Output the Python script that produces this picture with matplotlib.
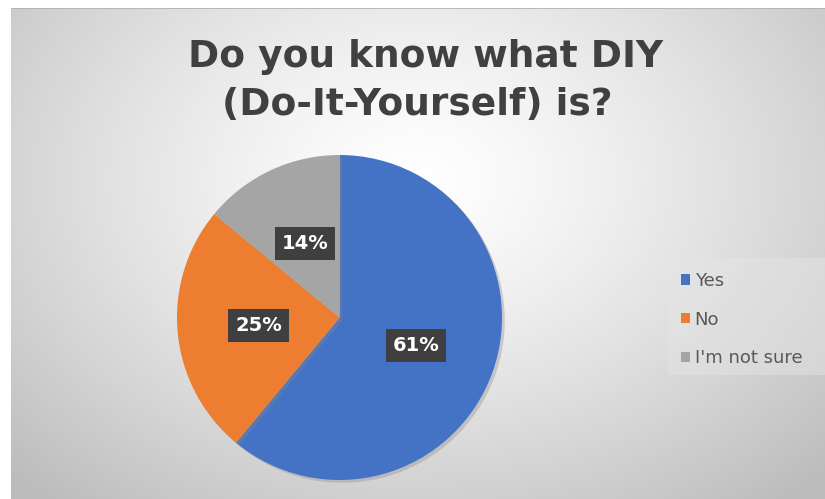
import numpy as np
import matplotlib
matplotlib.use("Agg")
import matplotlib.pyplot as plt
import matplotlib.patheffects as pe

title_lines = ["Do you know what DIY", "(Do-It-Yourself) is?"]
categories = ["Yes", "No", "I'm not sure"]
values = [61, 25, 14]
colors = ["#4472C4", "#ED7D31", "#A5A5A5"]

W, H = 825, 499
fig = plt.figure(figsize=(W / 100, H / 100), dpi=100)
fig.patch.set_facecolor("white")

# background panel with radial gradient
bg = fig.add_axes([11 / W, 0, 1 - 11 / W, (H - 8) / H])
bg.set_axis_off()
yy, xx = np.mgrid[0:491, 0:814]
cx, cy = 405, 170
r = np.sqrt(((xx - cx) / 520) ** 2 + ((yy - cy) / 380) ** 2)
g = np.clip(1.0 - 0.23 * np.clip(r, 0, 1.3) ** 1.3, 0.74, 1.0)
img = np.dstack([g, g, g])
bg.imshow(img, aspect="auto", extent=[0, 1, 0, 1], interpolation="bilinear")
bg.set_xlim(0, 1)
bg.set_ylim(0, 1)
bg.plot([0, 1], [0.999, 0.999], color="#b0b0b0", lw=1.2, transform=bg.transAxes)

# legend background
fig.patches.append(plt.Rectangle((668 / W, 1 - 375 / H), 157 / W, 117 / H,
                                 transform=fig.transFigure, facecolor="#e6e6e6",
                                 edgecolor="none", alpha=0.45, zorder=1))

# pie
cxp, cyp, rad = 339.5, 317.5, 162.5
ax = fig.add_axes([(cxp - rad) / W, 1 - (cyp + rad) / H, 2 * rad / W, 2 * rad / H])
ax.set_axis_off()
wedges, texts, autotexts = ax.pie(
    values, colors=colors, startangle=90, counterclock=False,
    autopct="%1.0f%%", pctdistance=0.5, radius=1.0,
    wedgeprops=dict(linewidth=0, edgecolor="none"),
    textprops=dict(color="white", fontsize=14, fontweight="bold", family="DejaVu Sans"),
)
for w in wedges:
    w.set_path_effects([pe.SimplePatchShadow(offset=(2, -2), shadow_rgbFace="#888888", alpha=0.35),
                        pe.Normal()])
for t in autotexts:
    t.set_bbox(dict(boxstyle="square,pad=0.36", facecolor="#3f3f3f", edgecolor="none"))
ax.set_xlim(-1, 1)
ax.set_ylim(-1, 1)

# title
fig.text(425 / W, 1 - 67 / H, title_lines[0], ha="center", va="baseline", fontsize=27,
         fontweight="bold", family="DejaVu Sans", color="#404040")
fig.text(417 / W, 1 - 115 / H, title_lines[1], ha="center", va="baseline", fontsize=27,
         fontweight="bold", family="DejaVu Sans", color="#404040")

# legend
leg = fig.legend(wedges, categories, loc="upper left", bbox_to_anchor=(672 / W, 1 - 263 / H),
                 frameon=False, labelspacing=1.14, handlelength=0.5,
                 handleheight=0.5, handletextpad=0.25, borderpad=0,
                 prop=dict(family="DejaVu Sans", size=13))
for h in leg.legend_handles:
    h.set_path_effects([])
for t in leg.get_texts():
    t.set_color("#595959")

fig.savefig("out.png", dpi=100, facecolor="white")
